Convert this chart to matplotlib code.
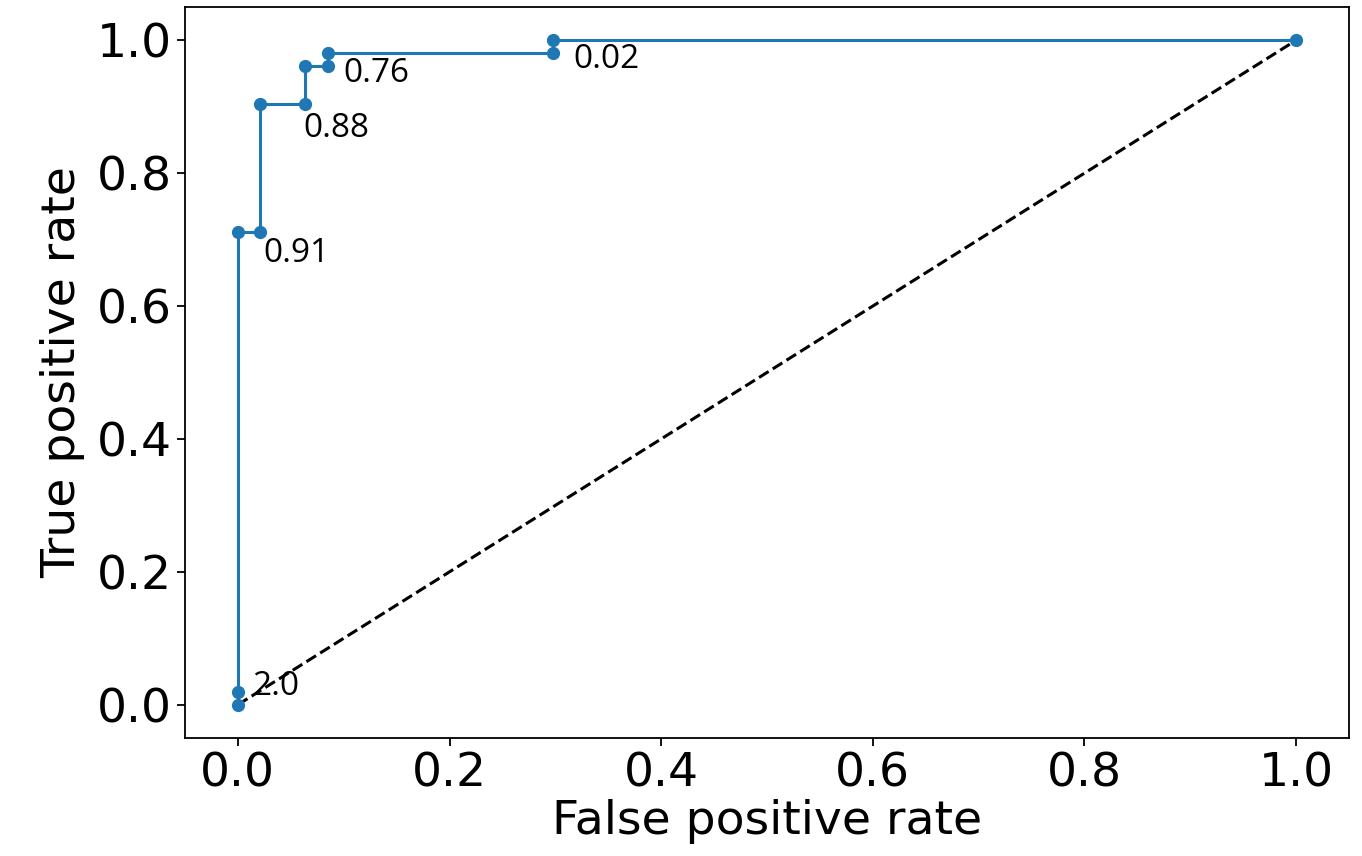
import matplotlib.pyplot as plt

# roc curve points
fpr = [0.0, 0.0, 0.0, 1/47, 1/47, 3/47, 3/47, 4/47, 4/47, 14/47, 14/47, 1.0]
tpr = [0.0, 1/52, 37/52, 37/52, 47/52, 47/52, 50/52, 50/52, 51/52, 51/52, 1.0, 1.0]

# threshold labels and which point they belong to
thr_idx = [1, 3, 5, 7, 9]
thr_txt = ['2.0', '0.91', '0.88', '0.76', '0.02']
thr_off = [(15, 5), (3, -22), (-2, -24), (15, -8), (20, -6)]  # pixels

fig = plt.figure(figsize=(13.62, 8.56), dpi=100)
ax = fig.add_axes([0.1358, 0.1379, 0.8547, 0.8539])

ax.plot([0, 1], [0, 1], 'k--', linewidth=2.2)
ax.plot(fpr, tpr, '-o', color='#1f77b4', linewidth=2.2, markersize=8.5)

for i, t, o in zip(thr_idx, thr_txt, thr_off):
    ax.annotate(t, (fpr[i], tpr[i]), xytext=o, textcoords='offset pixels',
                ha='left', va='center', fontsize=24, family='Open Sans')

ax.set_xlabel('False positive rate', fontsize=34, labelpad=2)
ax.set_ylabel('True positive rate', fontsize=34, labelpad=8)
ax.tick_params(labelsize=34, width=1.3, length=6)
for s in ax.spines.values():
    s.set_linewidth(1.3)

plt.savefig('out.png')
